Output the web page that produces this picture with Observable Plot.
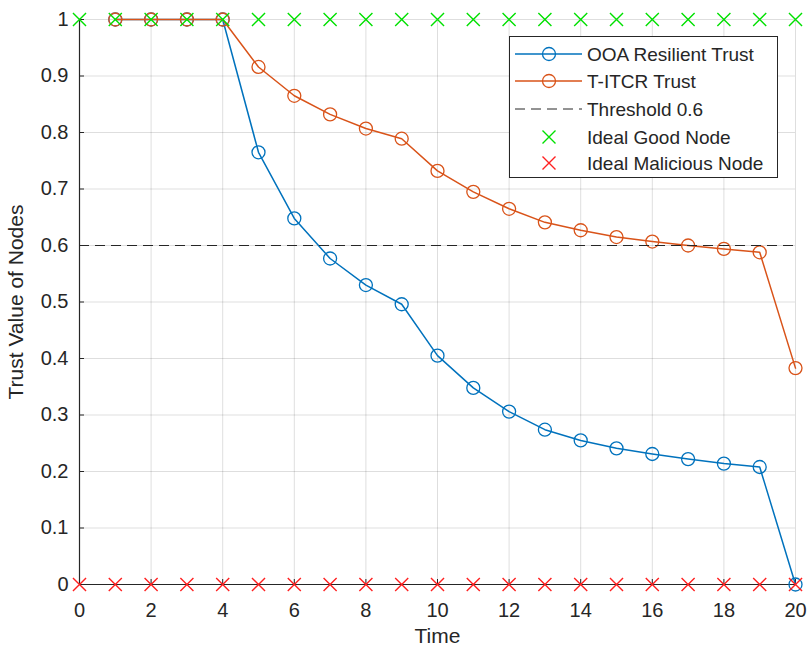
<!DOCTYPE html>
<html><head><meta charset="utf-8">
<script src="https://cdn.jsdelivr.net/npm/d3@7"></script>
<script src="https://cdn.jsdelivr.net/npm/@observablehq/plot@0.6"></script>
<style>
body{margin:0;background:#fff}
#wrap{position:relative;width:808px;height:650px}
#legend{position:absolute;left:509px;top:36px}
</style>
</head><body><div id="wrap"></div>
<script>
const times = [1,2,3,4,5,6,7,8,9,10,11,12,13,14,15,16,17,18,19,20];
const ooaTrust = [1,1,1,1,0.765,0.648,0.577,0.530,0.496,0.405,0.348,0.306,0.274,0.255,0.241,0.231,0.222,0.214,0.208,0];
const titcrTrust = [1,1,1,1,0.916,0.865,0.832,0.807,0.789,0.732,0.695,0.665,0.641,0.627,0.615,0.607,0.600,0.594,0.588,0.383];
const idealTimes = [0,1,2,3,4,5,6,7,8,9,10,11,12,13,14,15,16,17,18,19,20];
const idealGood = 1;
const idealMalicious = 0;
const threshold = 0.6;
const xTicks = [0,2,4,6,8,10,12,14,16,18,20];
const yTicks = [0,0.1,0.2,0.3,0.4,0.5,0.6,0.7,0.8,0.9,1];
const seriesNames = ["OOA Resilient Trust","T-ITCR Trust","Threshold 0.6","Ideal Good Node","Ideal Malicious Node"];

const blue = "#0072BD", orange = "#D95319", green = "#00E000", red = "#FF2020", ink = "#262626";
const ooaData = times.map((t,i)=>({t, v: ooaTrust[i]}));
const titcrData = times.map((t,i)=>({t, v: titcrTrust[i]}));
const goodData = idealTimes.map(t=>({t, v: idealGood}));
const malData = idealTimes.map(t=>({t, v: idealMalicious}));
const fmtY = d => d === 0 ? "0" : d === 1 ? "1" : d3.format(".1f")(d);

const chart = Plot.plot({
  width: 808, height: 650,
  marginLeft: 79, marginRight: 13, marginTop: 19, marginBottom: 66,
  style: {fontFamily: "'Liberation Sans', Arial, sans-serif", fontSize: "20px", color: ink, background: "white"},
  x: {domain: [0,20]},
  y: {domain: [0,1]},
  marks: [
    Plot.gridX(xTicks, {stroke: "#000", strokeOpacity: 0.13}),
    Plot.gridY(yTicks, {stroke: "#000", strokeOpacity: 0.13}),
    Plot.axisX(xTicks, {tickSize: -5, tickFormat: () => "", label: null, stroke: ink}),
    Plot.axisY(yTicks, {tickSize: -5, tickFormat: () => "", label: null, stroke: ink}),
    Plot.axisX(xTicks, {tickSize: 0, tickPadding: 18, label: null, fontSize: 20, fill: ink}),
    Plot.axisY(yTicks, {tickSize: 0, tickPadding: 11, label: null, tickFormat: fmtY, fontSize: 20, fill: ink}),
    Plot.ruleX([0], {stroke: ink, strokeWidth: 1.2}),
    Plot.ruleY([0], {stroke: ink, strokeWidth: 1.2}),
    Plot.line(ooaData, {x: "t", y: "v", stroke: blue, strokeWidth: 1.5}),
    Plot.dot(ooaData, {x: "t", y: "v", r: 6.5, stroke: blue, strokeWidth: 1.3, fill: "none"}),
    Plot.line(titcrData, {x: "t", y: "v", stroke: orange, strokeWidth: 1.5}),
    Plot.dot(titcrData, {x: "t", y: "v", r: 6.5, stroke: orange, strokeWidth: 1.3, fill: "none"}),
    Plot.ruleY([threshold], {stroke: ink, strokeWidth: 1, strokeDasharray: "10,6"}),
    Plot.dot(goodData, {x: "t", y: "v", symbol: "times", r: 6, stroke: green, strokeWidth: 1.4}),
    Plot.dot(malData, {x: "t", y: "v", symbol: "times", r: 6, stroke: red, strokeWidth: 1.4}),
    Plot.text(["Time"], {frameAnchor: "bottom", dy: 52, lineAnchor: "middle", fontSize: 21, fill: ink}),
    Plot.text(["Trust Value of Nodes"], {frameAnchor: "left", dx: -63, rotate: -90, lineAnchor: "middle", textAnchor: "middle", fontSize: 21, fill: ink})
  ]
});
const wrap = document.getElementById("wrap");
wrap.appendChild(chart);

// Legend
const lw = 269, lh = 142;
const leg = d3.select(wrap).append("svg").attr("id","legend").attr("width", lw).attr("height", lh)
  .style("font-family", "'Liberation Sans', Arial, sans-serif");
leg.append("rect").attr("x",0.5).attr("y",0.5).attr("width",lw-1).attr("height",lh-1).attr("fill","white").attr("stroke",ink).attr("stroke-width",1);
const rowY = [18, 45, 73, 101, 127];
const styles = [
  {type:"lineCircle", color: blue},
  {type:"lineCircle", color: orange},
  {type:"dash", color: ink},
  {type:"times", color: green},
  {type:"times", color: red}
];
seriesNames.forEach((name, i) => {
  const y = rowY[i], s = styles[i];
  const g = leg.append("g");
  if (s.type === "lineCircle") {
    g.append("line").attr("x1",6).attr("x2",73).attr("y1",y).attr("y2",y).attr("stroke",s.color).attr("stroke-width",1.5);
    g.append("circle").attr("cx",40).attr("cy",y).attr("r",6.5).attr("fill","none").attr("stroke",s.color).attr("stroke-width",1.3);
  } else if (s.type === "dash") {
    g.append("line").attr("x1",6).attr("x2",73).attr("y1",y).attr("y2",y).attr("stroke",s.color).attr("stroke-width",1).attr("stroke-dasharray","10,6");
  } else {
    g.append("path").attr("d",`M${40-6.5},${y-6.5}L${40+6.5},${y+6.5}M${40-6.5},${y+6.5}L${40+6.5},${y-6.5}`).attr("stroke",s.color).attr("stroke-width",1.4);
  }
  g.append("text").attr("x",78).attr("y",y).attr("dy","0.35em").attr("font-size",19).attr("fill",ink).text(name);
});
</script>
</body></html>
